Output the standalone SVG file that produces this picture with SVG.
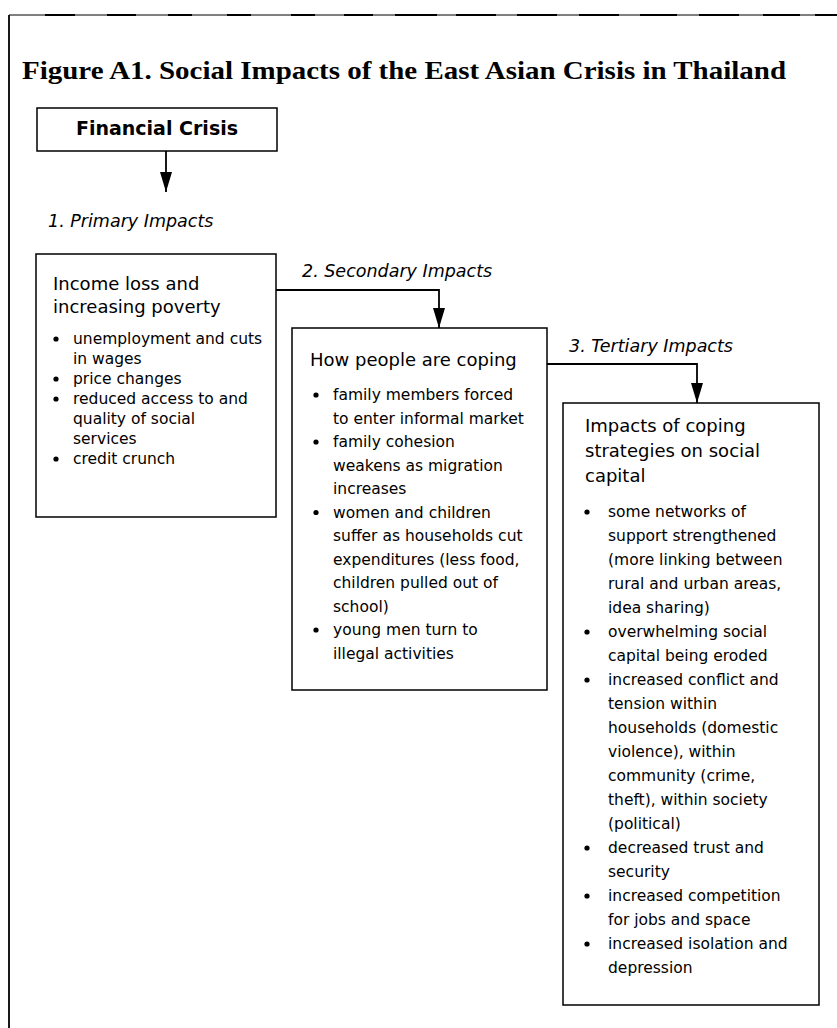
<svg xmlns="http://www.w3.org/2000/svg" width="837" height="1028" viewBox="0 0 837 1028">
  <style>
    .frame { stroke: #000; fill: none; }
    .box { fill: #fff; stroke: #000; stroke-width: 1.5; }
    .title { font-family: "Liberation Serif", "Times New Roman", serif; font-weight: bold; font-size: 25px; fill: #000; }
    .head { font-family: "DejaVu Sans", "Liberation Sans", sans-serif; font-size: 18px; fill: #000; }
    .item { font-family: "DejaVu Sans", "Liberation Sans", sans-serif; font-size: 15.5px; fill: #000; }
    .label { font-family: "DejaVu Sans", "Liberation Sans", sans-serif; font-style: italic; font-size: 17.5px; fill: #000; }
    .start { font-family: "DejaVu Sans", "Liberation Sans", sans-serif; font-weight: bold; font-size: 19px; fill: #000; }
    .link { fill: none; stroke: #000; stroke-width: 1.8; }
    .dot { fill: #000; }
  </style>
  <defs>
    <marker id="arrow" viewBox="0 0 20 12" refX="20" refY="6" markerWidth="20" markerHeight="12" markerUnits="userSpaceOnUse" orient="auto">
      <path d="M0,0 L20,6 L0,12 z" fill="#000"/>
    </marker>
  </defs>

  <rect width="837" height="1028" fill="#fff"/>

  <!-- page frame: thin rule with heavier dashes along the top -->
  <g id="frame">
    <line class="frame" x1="9" y1="15" x2="837" y2="15" stroke-width="1"/>
    <path class="frame" stroke-width="2.2" d="M45,15 H75 M107,15 H136 M168,15 H192 M227,15 H251 M291,15 H315 M344,15 H373 M395,15 H437 M456,15 H496 M517,15 H557 M579,15 H619 M640,15 H677 M699,15 H739 M763,15 H800 M815,15 H837"/>
    <line class="frame" x1="9" y1="15" x2="9" y2="1028" stroke-width="1.8"/>
  </g>

  <text class="title" x="22" y="79" textLength="764" lengthAdjust="spacingAndGlyphs">Figure A1. Social Impacts of the East Asian Crisis in Thailand</text>

  <!-- connectors -->
  <g id="connectors">
    <line class="link" x1="166" y1="151" x2="166" y2="192" marker-end="url(#arrow)"/>
    <polyline class="link" points="276,290 439,290 439,328" marker-end="url(#arrow)"/>
    <polyline class="link" points="547,364 697,364 697,403" marker-end="url(#arrow)"/>
    <text class="label" x="48" y="227">1.  Primary Impacts</text>
    <text class="label" x="302" y="277">2. Secondary Impacts</text>
    <text class="label" x="569" y="352">3. Tertiary Impacts</text>
  </g>

  <g id="financial-crisis">
    <rect class="box" x="37" y="108" width="240" height="43"/>
    <text class="start" x="157" y="135" text-anchor="middle">Financial Crisis</text>
  </g>

  <g id="primary-impacts">
    <rect class="box" x="36" y="254" width="240" height="263"/>
    <text class="head" x="53" y="290">Income loss and</text>
    <text class="head" x="53" y="313">increasing poverty</text>
    <circle class="dot" cx="56" cy="339" r="2.6"/>
    <text class="item" x="73" y="344">unemployment and cuts</text>
    <text class="item" x="73" y="364">in wages</text>
    <circle class="dot" cx="56" cy="379" r="2.6"/>
    <text class="item" x="73" y="384">price changes</text>
    <circle class="dot" cx="56" cy="399" r="2.6"/>
    <text class="item" x="73" y="404">reduced access to and</text>
    <text class="item" x="73" y="424">quality of social</text>
    <text class="item" x="73" y="444">services</text>
    <circle class="dot" cx="56" cy="459" r="2.6"/>
    <text class="item" x="73" y="464">credit crunch</text>
  </g>

  <g id="secondary-impacts">
    <rect class="box" x="292" y="328" width="255" height="362"/>
    <text class="head" x="310" y="366">How people are coping</text>
    <circle class="dot" cx="316" cy="395" r="2.6"/>
    <text class="item" x="333" y="400">family members forced</text>
    <text class="item" x="333" y="423.5">to enter informal market</text>
    <circle class="dot" cx="316" cy="442" r="2.6"/>
    <text class="item" x="333" y="447">family cohesion</text>
    <text class="item" x="333" y="470.5">weakens as migration</text>
    <text class="item" x="333" y="494">increases</text>
    <circle class="dot" cx="316" cy="512.5" r="2.6"/>
    <text class="item" x="333" y="517.5">women and children</text>
    <text class="item" x="333" y="541">suffer as households cut</text>
    <text class="item" x="333" y="564.5">expenditures (less food,</text>
    <text class="item" x="333" y="588">children pulled out of</text>
    <text class="item" x="333" y="611.5">school)</text>
    <circle class="dot" cx="316" cy="630" r="2.6"/>
    <text class="item" x="333" y="635">young men turn to</text>
    <text class="item" x="333" y="658.5">illegal activities</text>
  </g>

  <g id="tertiary-impacts">
    <rect class="box" x="563" y="403" width="256" height="602"/>
    <text class="head" x="585" y="432">Impacts of coping</text>
    <text class="head" x="585" y="457">strategies on social</text>
    <text class="head" x="585" y="482">capital</text>
    <circle class="dot" cx="587" cy="512" r="2.6"/>
    <text class="item" x="608" y="517">some networks of</text>
    <text class="item" x="608" y="541">support strengthened</text>
    <text class="item" x="608" y="565">(more linking between</text>
    <text class="item" x="608" y="589">rural and urban areas,</text>
    <text class="item" x="608" y="613">idea sharing)</text>
    <circle class="dot" cx="587" cy="632" r="2.6"/>
    <text class="item" x="608" y="637">overwhelming social</text>
    <text class="item" x="608" y="661">capital being eroded</text>
    <circle class="dot" cx="587" cy="680" r="2.6"/>
    <text class="item" x="608" y="685">increased conflict and</text>
    <text class="item" x="608" y="709">tension within</text>
    <text class="item" x="608" y="733">households (domestic</text>
    <text class="item" x="608" y="757">violence), within</text>
    <text class="item" x="608" y="781">community (crime,</text>
    <text class="item" x="608" y="805">theft), within society</text>
    <text class="item" x="608" y="829">(political)</text>
    <circle class="dot" cx="587" cy="848" r="2.6"/>
    <text class="item" x="608" y="853">decreased trust and</text>
    <text class="item" x="608" y="877">security</text>
    <circle class="dot" cx="587" cy="896" r="2.6"/>
    <text class="item" x="608" y="901">increased competition</text>
    <text class="item" x="608" y="925">for jobs and space</text>
    <circle class="dot" cx="587" cy="944" r="2.6"/>
    <text class="item" x="608" y="949">increased isolation and</text>
    <text class="item" x="608" y="973">depression</text>
  </g>
</svg>
